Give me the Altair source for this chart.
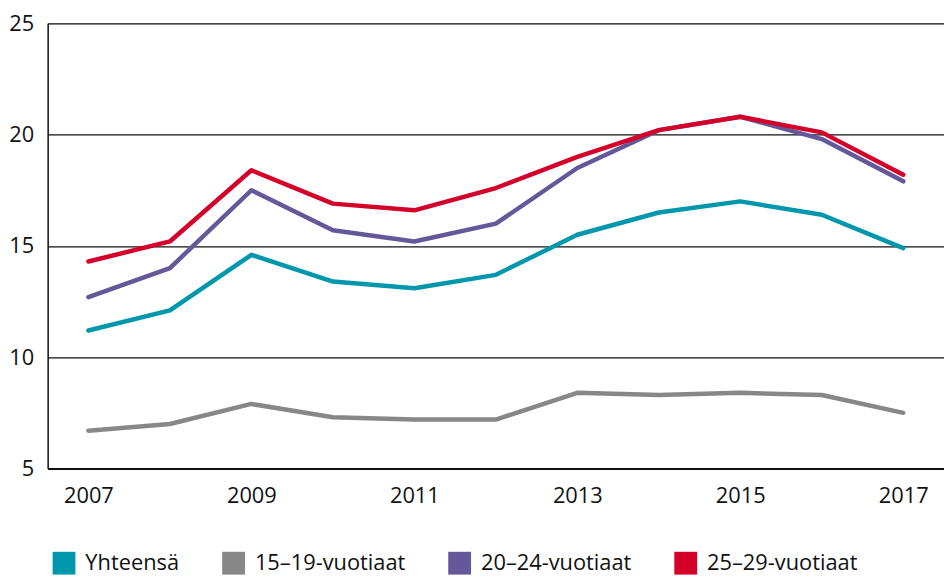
import altair as alt
import pandas as pd

years = [2007, 2008, 2009, 2010, 2011, 2012, 2013, 2014, 2015, 2016, 2017]
series_names = ["Yhteensä", "15–19-vuotiaat", "20–24-vuotiaat", "25–29-vuotiaat"]
yhteensa = [11.2, 12.1, 14.6, 13.4, 13.1, 13.7, 15.5, 16.5, 17.0, 16.4, 14.9]
v15_19 = [6.7, 7.0, 7.9, 7.3, 7.2, 7.2, 8.4, 8.3, 8.4, 8.3, 7.5]
v20_24 = [12.7, 14.0, 17.5, 15.7, 15.2, 16.0, 18.5, 20.2, 20.8, 19.8, 17.9]
v25_29 = [14.3, 15.2, 18.4, 16.9, 16.6, 17.6, 19.0, 20.2, 20.8, 20.1, 18.2]
colors = ["#0097AD", "#878787", "#65589A", "#D50029"]
x_ticks = [2007, 2009, 2011, 2013, 2015, 2017]
y_ticks = [5, 10, 15, 20, 25]

rows = []
for i, (name, vals) in enumerate(zip(series_names, [yhteensa, v15_19, v20_24, v25_29])):
    for y, v in zip(years, vals):
        rows.append({"vuosi": y, "arvo": v, "sarja": name, "jarj": i})
df = pd.DataFrame(rows)

FONT = "Open Sans"
color_scale = alt.Scale(domain=series_names, range=colors)

lines = alt.Chart(df).mark_line(strokeWidth=4.5, strokeCap="round", strokeJoin="round").encode(
    x=alt.X("vuosi:Q", scale=alt.Scale(domain=[2006.5, 2017.5], nice=False, zero=False),
            axis=alt.Axis(values=x_ticks, format="d", title=None, grid=False, ticks=False,
                          tickSize=0, labelPadding=17, labelFontSize=22, labelFont=FONT,
                          labelColor="#111111", domainColor="#111111", domainWidth=2,
                          labelFlush=False)),
    y=alt.Y("arvo:Q", scale=alt.Scale(domain=[5, 25], nice=False, zero=False),
            axis=alt.Axis(values=y_ticks, title=None, grid=True, gridColor="#111111",
                          gridWidth=1.3, ticks=False, tickSize=0, labelPadding=14,
                          labelFontSize=22, labelFont=FONT, labelColor="#111111",
                          domainColor="#111111", domainWidth=1.5, labelFlush=False)),
    color=alt.Color("sarja:N", scale=color_scale, legend=None),
    order=alt.Order("jarj:Q"),
    detail="sarja:N",
)

legend_layer = alt.Chart(df).transform_filter("false").mark_square(opacity=1).encode(
    color=alt.Color("sarja:N", scale=color_scale,
                    legend=alt.Legend(title=None, orient="none", legendX=5, legendY=533,
                                      direction="horizontal", columns=4, columnPadding=43,
                                      symbolType="square", symbolSize=529, symbolStrokeWidth=0,
                                      symbolOpacity=1, labelOffset=10, labelFontSize=22,
                                      labelFont=FONT, labelColor="#111111", labelLimit=400)),
)

chart = alt.layer(lines, legend_layer).resolve_legend(color="independent").properties(
    width=904, height=449,
    autosize=alt.AutoSizeParams(type="none"),
    padding={"left": 40, "top": 13, "right": 0, "bottom": 108},
).configure_view(stroke=None).configure(background="white")

chart.save("out.html", embed_options={"renderer": "svg", "actions": False})
